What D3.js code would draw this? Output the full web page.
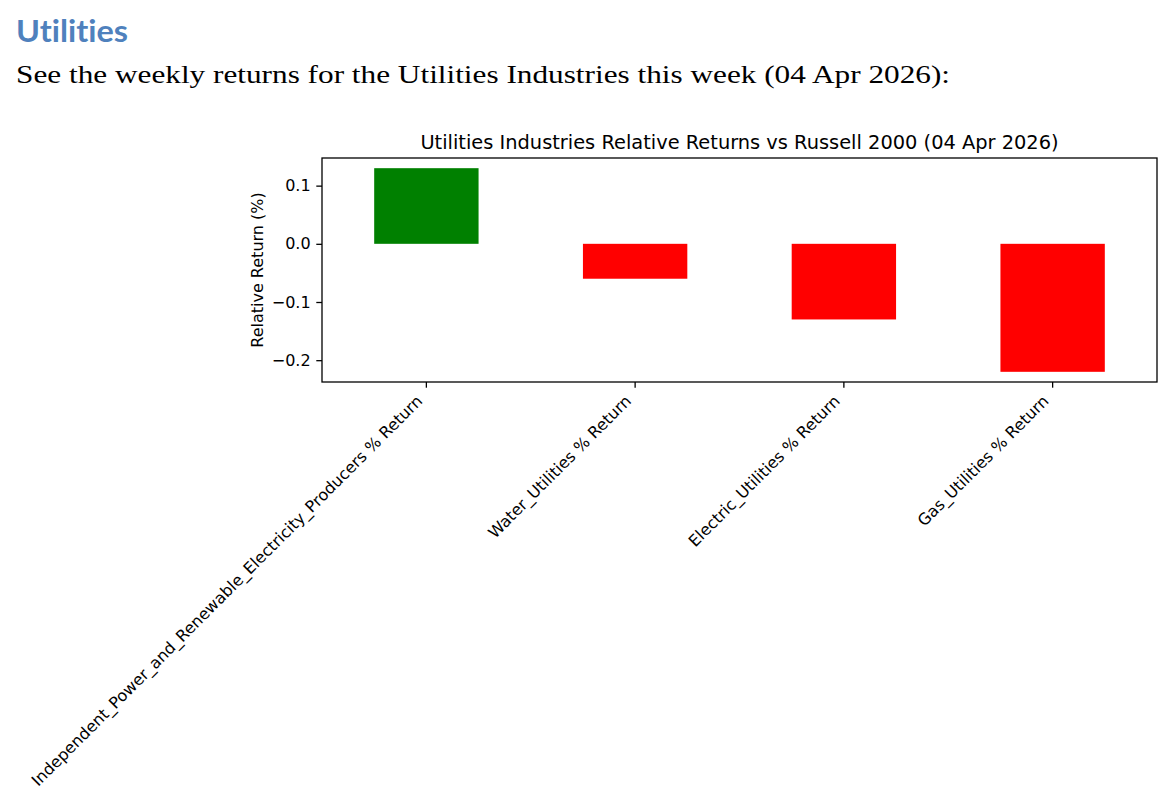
<!DOCTYPE html>
<html>
<head>
<meta charset="utf-8">
<script src="https://cdn.jsdelivr.net/npm/d3@7"></script>
<style>
  body { margin: 0; background: #fff; }
  svg { display: block; }
  text { font-variant-ligatures: none; }
</style>
</head>
<body>
<svg id="chart" width="1176" height="808"></svg>
<script>
// data
var industries = [
  "Independent_Power_and_Renewable_Electricity_Producers % Return",
  "Water_Utilities % Return",
  "Electric_Utilities % Return",
  "Gas_Utilities % Return"
];
var relReturns = [0.13, -0.06, -0.13, -0.22];
var yTicks = [0.1, 0.0, -0.1, -0.2];

var heading = "Utilities";
var intro = "See the weekly returns for the Utilities Industries this week (04 Apr 2026):";
var chartTitle = "Utilities Industries Relative Returns vs Russell 2000 (04 Apr 2026)";
var yLabel = "Relative Return (%)";

var svg = d3.select("#chart");

// page text above the figure
svg.append("text")
  .attr("x", 16).attr("y", 42)
  .attr("font-family", "Lato, 'Open Sans', sans-serif")
  .attr("font-weight", "bold")
  .attr("font-size", 31)
  .attr("fill", "#4f81bd")
  .attr("textLength", 112).attr("lengthAdjust", "spacingAndGlyphs")
  .text(heading);

svg.append("text")
  .attr("x", 16).attr("y", 83)
  .attr("font-family", "'Liberation Serif', 'DejaVu Serif', serif")
  .attr("font-size", 26)
  .attr("fill", "#000")
  .attr("textLength", 934).attr("lengthAdjust", "spacingAndGlyphs")
  .text(intro);

// axes box (pixels)
var box = { left: 322, right: 1157, top: 158, bottom: 382 };

var ext = d3.extent(relReturns.concat([0]));
var pad = (ext[1] - ext[0]) * 0.05;
var y = d3.scaleLinear()
  .domain([ext[0] - pad, ext[1] + pad])
  .range([box.bottom, box.top]);

var x = d3.scaleBand()
  .domain(industries)
  .range([box.left, box.right])
  .paddingInner(0.5)
  .paddingOuter(0.25);

var font = "'DejaVu Sans', sans-serif";
var tickFont = 16;

// bars
svg.append("g").selectAll("rect")
  .data(relReturns)
  .join("rect")
  .attr("x", function(d, i) { return x(industries[i]); })
  .attr("width", x.bandwidth())
  .attr("y", function(d) { return y(Math.max(d, 0)); })
  .attr("height", function(d) { return Math.abs(y(d) - y(0)); })
  .attr("fill", function(d) { return d >= 0 ? "green" : "red"; });

// frame
svg.append("rect")
  .attr("x", box.left).attr("y", box.top)
  .attr("width", box.right - box.left).attr("height", box.bottom - box.top)
  .attr("fill", "none")
  .attr("stroke", "#000").attr("stroke-width", 1.3);

// y axis
var yAxis = svg.append("g")
  .attr("transform", "translate(" + box.left + ",0)")
  .call(d3.axisLeft(y).tickValues(yTicks).tickFormat(d3.format(".1f"))
    .tickSizeOuter(0).tickSize(5.7).tickPadding(5.7));
yAxis.select(".domain").remove();
yAxis.selectAll("text")
  .attr("font-family", font).attr("font-size", tickFont).attr("fill", "#000");
yAxis.selectAll("line").attr("stroke", "#000").attr("stroke-width", 1.3);

// x axis, labels rotated 45 and right-aligned on the tick
var xAxis = svg.append("g")
  .attr("transform", "translate(0," + box.bottom + ")")
  .call(d3.axisBottom(x).tickSizeOuter(0).tickSize(5.7));
xAxis.select(".domain").remove();
xAxis.selectAll("line").attr("stroke", "#000").attr("stroke-width", 1.3);
xAxis.selectAll("text")
  .attr("font-family", font).attr("font-size", tickFont).attr("fill", "#000")
  .attr("text-anchor", "end")
  .attr("dy", null)
  .attr("y", 0)
  .attr("transform", "translate(-3,20) rotate(-45)");

// title and y label
svg.append("text")
  .attr("x", (box.left + box.right) / 2).attr("y", 149)
  .attr("text-anchor", "middle")
  .attr("font-family", font).attr("font-size", 19.4)
  .attr("fill", "#000")
  .text(chartTitle);

svg.append("text")
  .attr("transform", "translate(263," + (box.top + box.bottom) / 2 + ") rotate(-90)")
  .attr("text-anchor", "middle")
  .attr("font-family", font).attr("font-size", tickFont)
  .attr("fill", "#000")
  .text(yLabel);
</script>
</body>
</html>
